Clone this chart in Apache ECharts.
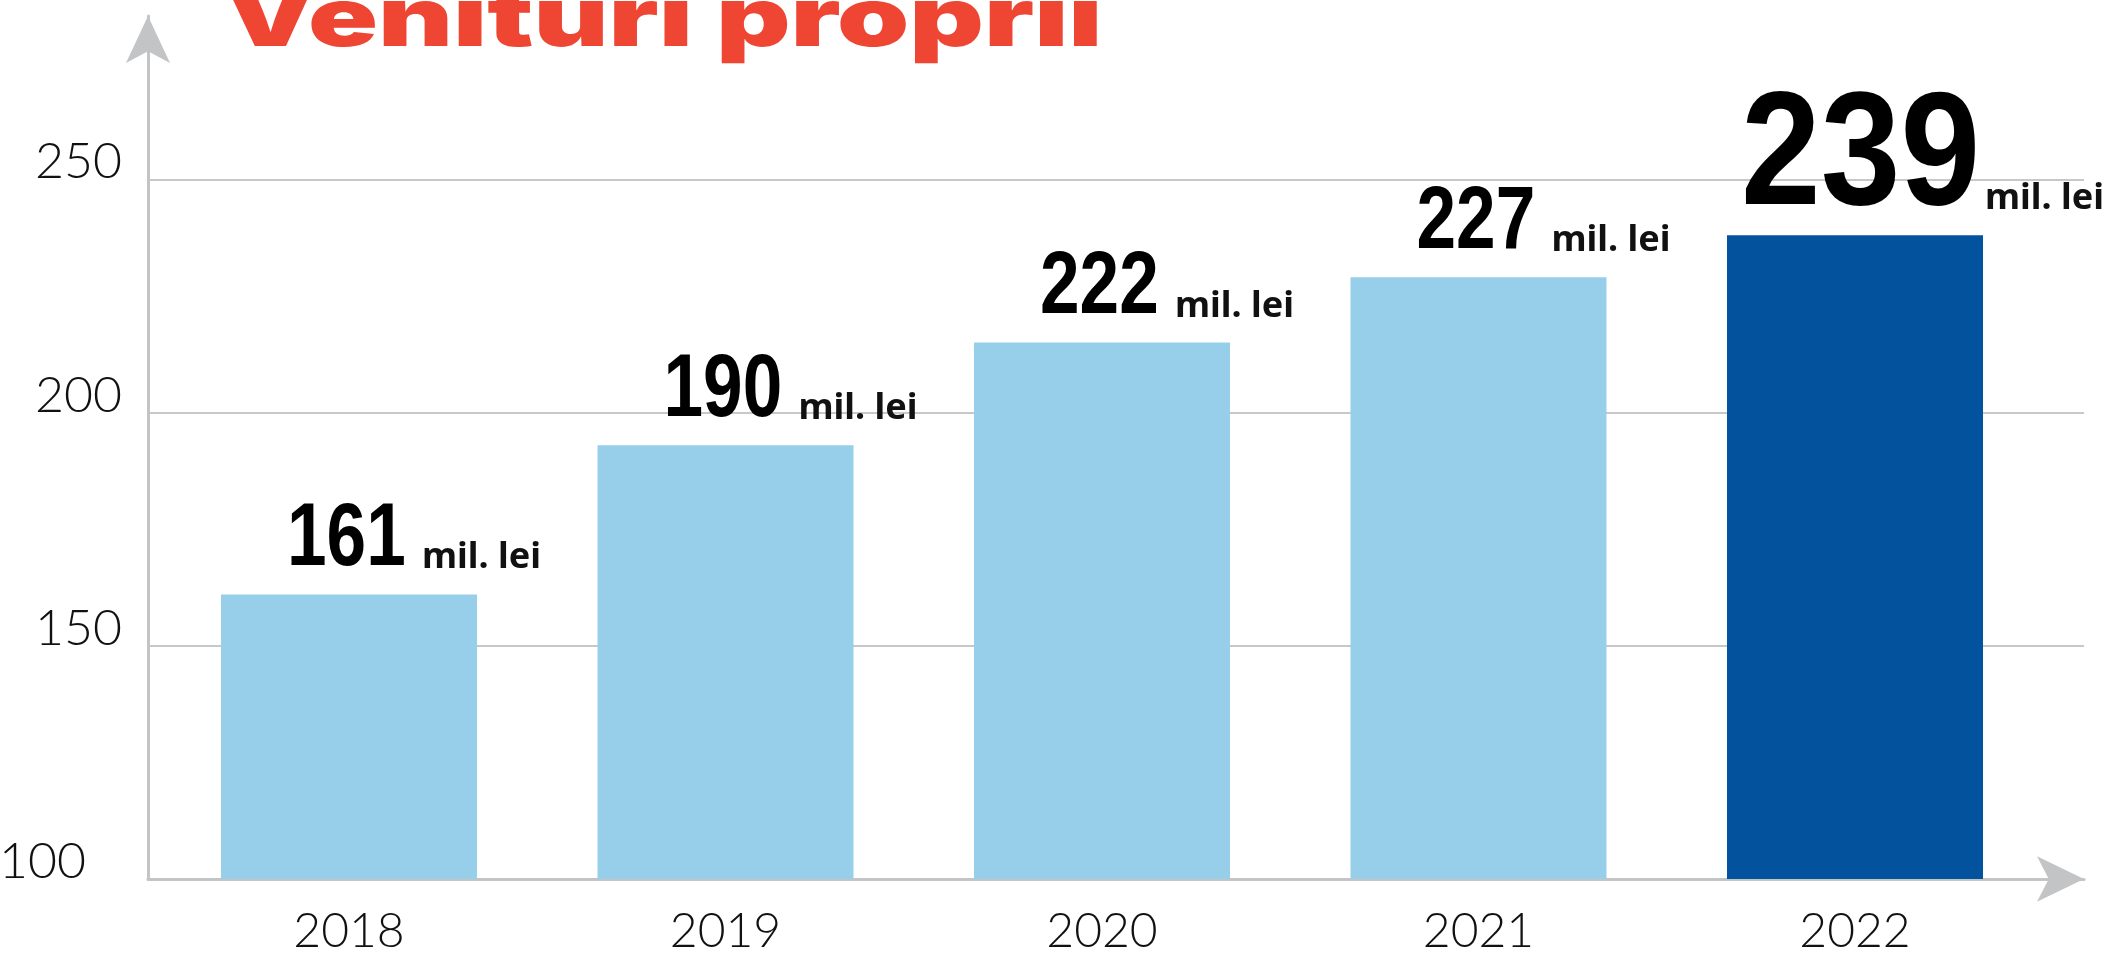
<!DOCTYPE html>
<html>
<head>
<meta charset="utf-8">
<script src="https://cdn.jsdelivr.net/npm/echarts@6/dist/echarts.min.js"></script>
<style>
    html, body { margin: 0; padding: 0; background: #fff; }
    #chart { width: 2111px; height: 957px; }
</style>
</head>
<body>
<div id="chart"></div>
<script>
// Date
const years = ['2018', '2019', '2020', '2021', '2022'];
const barHeights = [161, 193, 215, 229, 238];      // inaltimea barelor, asa cum sunt desenate
const printedValues = [161, 190, 222, 227, 239];   // valorile scrise deasupra
const unitText = 'mil. lei';
const titleText = 'Venituri proprii';
const yMin = 100, yMax = 285, yStep = 50;
const highlightIndex = 4;

const NUM_FONT = '"Liberation Sans", Arial, sans-serif';
const UNIT_FONT = '"Noto Sans", "Open Sans", sans-serif';
const AXIS_FONT = 'Lato, "Noto Sans", sans-serif';
const GRID_TOP = 16, GRID_H = 863;
const BAR_WIDTH = 256;

const chart = echarts.init(document.getElementById('chart'));

// etichetele "161 mil. lei": cifra ingustata + unitatea, pe aceeasi linie de baza
function renderValueLabel(params, api) {
    const i = params.dataIndex;
    const top = api.coord([api.value(0), api.value(1)]);
    const left = top[0] - BAR_WIDTH / 2;
    const big = i === highlightIndex;
    const numSize = big ? 161 : 89;
    const base = top[1] - 26;
    return {
        type: 'group',
        children: [
            {
                type: 'text', x: left + (big ? 14 : 66), y: base - 0.31 * numSize, scaleX: big ? 0.89 : 0.8,
                style: { text: String(api.value(2)), fontFamily: NUM_FONT, fontWeight: 'bold', fontSize: numSize, fill: '#000', align: 'left', verticalAlign: 'middle' }
            },
            {
                type: 'text', x: left + (big ? 258 : 201), y: base - 0.285 * 36,
                style: { text: unitText, fontFamily: UNIT_FONT, fontWeight: 'bold', fontSize: 36, fill: '#111', align: 'left', verticalAlign: 'middle' }
            }
        ]
    };
}

chart.setOption({
    backgroundColor: '#fff',
    animation: false,
    graphic: [{
        type: 'text', x: 224, y: 46 - 0.3 * 82, scaleX: 1.41,
        style: { text: titleText, fontFamily: 'Inter, Lato, "Noto Sans", sans-serif', fontWeight: 900, fontSize: 82, fill: '#ef4634', align: 'left', verticalAlign: 'middle' }
    }],
    grid: [
        // grila cu axele si sagetile
        { left: 148, top: GRID_TOP, width: 1936, height: GRID_H, outerBoundsMode: 'none', containLabel: false },
        // grila pentru bare si anii de pe axa X
        { left: 160.75, top: GRID_TOP, width: 1882.5, height: GRID_H, outerBoundsMode: 'none', containLabel: false }
    ],
    xAxis: [
        {
            gridIndex: 0, type: 'value', min: 0, max: 1,
            axisLine: { show: true, lineStyle: { color: '#c3c4c6', width: 3 }, symbol: ['none', 'arrow'], symbolSize: [34, 47] },
            axisTick: { show: false }, axisLabel: { show: false }, splitLine: { show: false }
        },
        {
            gridIndex: 1, type: 'category', data: years,
            axisLine: { show: false }, axisTick: { show: false },
            axisLabel: { fontFamily: AXIS_FONT, fontWeight: 300, fontSize: 48, color: '#111', margin: 29 }
        }
    ],
    yAxis: [
        {
            gridIndex: 0, type: 'value', min: yMin, max: yMax, interval: yStep,
            axisLine: { show: true, lineStyle: { color: '#c3c4c6', width: 3 }, symbol: ['none', 'arrow'], symbolSize: [33, 47] },
            axisTick: { show: false },
            splitLine: { show: true, showMinLine: false, showMaxLine: false, lineStyle: { color: '#c8c8c8', width: 2 } },
            axisLabel: {
                showMaxLabel: false, margin: 26,
                fontFamily: AXIS_FONT, fontWeight: 300, fontSize: 50, color: '#111',
                verticalAlign: 'bottom', lineHeight: 34,
                formatter: v => v === yMin ? '{low|' + v + '}' : String(v),
                rich: { low: { fontFamily: AXIS_FONT, fontWeight: 300, fontSize: 50, lineHeight: 34, color: '#111', padding: [0, 36, 0, 0] } }
            }
        },
        { gridIndex: 1, type: 'value', min: yMin, max: yMax, show: false, splitLine: { show: false } }
    ],
    series: [
        {
            type: 'bar',
            xAxisIndex: 1, yAxisIndex: 1,
            barWidth: BAR_WIDTH,
            data: barHeights,
            itemStyle: { color: p => p.dataIndex === highlightIndex ? '#02529e' : '#97cfeb' }
        },
        {
            type: 'custom',
            xAxisIndex: 1, yAxisIndex: 1,
            data: years.map((y, i) => [i, barHeights[i], printedValues[i]]),
            encode: { x: 0, y: 1 },
            z: 3, silent: true,
            renderItem: renderValueLabel
        }
    ]
});

window.addEventListener('resize', () => chart.resize());
</script>
</body>
</html>
